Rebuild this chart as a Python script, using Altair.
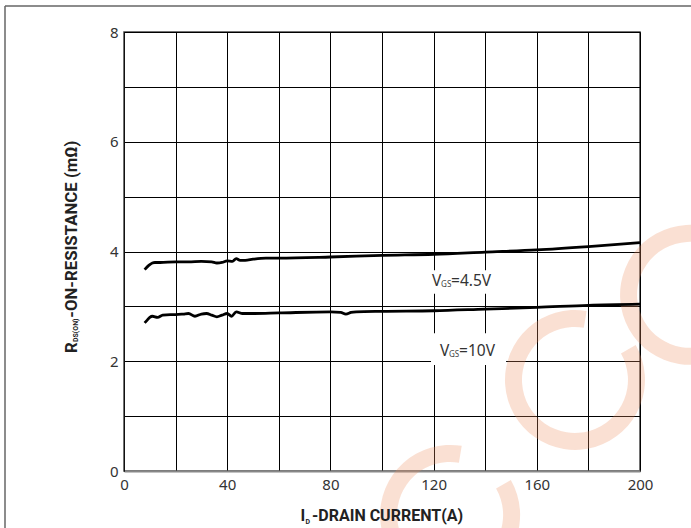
import altair as alt
import pandas as pd

# ---- data ----
x_45 = [8, 9, 10, 11, 12, 14, 20, 25, 30, 34, 36, 38, 40, 42, 43.5, 45, 47, 50, 55, 60, 80, 100, 120, 140, 160, 180, 200]
y_45 = [3.67, 3.72, 3.76, 3.79, 3.80, 3.80, 3.81, 3.81, 3.82, 3.81, 3.79, 3.80, 3.83, 3.82, 3.87, 3.84, 3.84, 3.86, 3.88, 3.88, 3.90, 3.93, 3.95, 3.99, 4.03, 4.09, 4.16]

x_10 = [8, 9, 10, 11, 13, 15, 18, 20, 23, 25, 27.5, 30, 32, 34, 36, 38, 40, 41.7, 43.5, 46, 50, 60, 80, 84, 86, 88, 90, 100, 120, 140, 160, 180, 200]
y_10 = [2.70, 2.75, 2.80, 2.82, 2.80, 2.84, 2.85, 2.85, 2.86, 2.87, 2.82, 2.86, 2.87, 2.84, 2.81, 2.84, 2.87, 2.82, 2.90, 2.87, 2.87, 2.88, 2.90, 2.89, 2.86, 2.89, 2.90, 2.91, 2.92, 2.95, 2.98, 3.02, 3.04]

x_ticks = list(range(0, 201, 20))
y_ticks = list(range(0, 9))

# annotation label anchors (data units)
lab_x = [119.4, 122.5]
lab_y = [3.37, 2.10]
lab_main = ["V", "V"]
lab_sub = ["GS", "GS"]
lab_rest = ["=4.5V", "=10V"]
box_x1 = [117.4, 119.0]
box_x2 = [143.4, 148.1]
box_y1 = [3.23, 1.93]
box_y2 = [3.66, 2.51]

# watermark ring centres (data units)
wm_x = [126.4, 174.8, 219.4]
wm_y = [-0.80, 1.66, 3.21]

FONT = "Noto Sans"
TFONT = "Roboto"

df = pd.DataFrame({
    "id": x_45 + x_10,
    "r": y_45 + y_10,
    "vgs": ["4.5V"] * len(x_45) + ["10V"] * len(x_10),
})
labels = pd.DataFrame({"x": lab_x, "y": lab_y, "main": lab_main, "sub": lab_sub, "rest": lab_rest})
boxes = pd.DataFrame({"x1": box_x1, "x2": box_x2, "y1": box_y1, "y2": box_y2})
wm = pd.DataFrame({"cx": wm_x, "cy": wm_y})
one = pd.DataFrame({"a": [0]})

xscale = alt.Scale(domain=[0, 200], nice=False, zero=False)
yscale = alt.Scale(domain=[0, 8], nice=False, zero=False)

xaxis = alt.Axis(values=x_ticks, labelExpr="datum.value % 40 == 0 ? datum.label : ''",
                 grid=True, gridColor="#000", gridWidth=1, ticks=False,
                 domainColor="#888", domainWidth=2, labelFont=FONT, labelFontSize=15,
                 labelColor="#333", labelPadding=6, title=None, labelFlush=False)
yaxis = alt.Axis(values=y_ticks, labelExpr="datum.value % 2 == 0 ? datum.label : ''",
                 grid=True, gridColor="#000", gridWidth=1, ticks=False,
                 domainColor="#111", domainWidth=1, labelFont=FONT, labelFontSize=15,
                 labelColor="#333", labelPadding=6, title=None, labelFlush=False)

lines = alt.Chart(df).mark_line(strokeWidth=2.8, color="black", interpolate="monotone").encode(
    x=alt.X("id:Q", scale=xscale, axis=xaxis),
    y=alt.Y("r:Q", scale=yscale, axis=yaxis),
    detail="vgs:N",
)

watermark = alt.Chart(wm).mark_arc(color="#EE9162", opacity=0.28, radius=70, radius2=53,
                                   theta=1.05, theta2=6.45).encode(
    x=alt.X("cx:Q", scale=xscale),
    y=alt.Y("cy:Q", scale=yscale),
)

rects = alt.Chart(boxes).mark_rect(color="white").encode(
    x=alt.X("x1:Q", scale=xscale), x2="x2:Q",
    y=alt.Y("y1:Q", scale=yscale), y2="y2:Q",
)

t_main = alt.Chart(labels).mark_text(align="left", baseline="alphabetic", font=FONT,
                                     fontSize=15.5, color="#333").encode(
    x=alt.X("x:Q", scale=xscale), y=alt.Y("y:Q", scale=yscale), text="main:N")
t_sub = alt.Chart(labels).mark_text(align="left", baseline="alphabetic", font=FONT,
                                    fontSize=8, color="#444", dx=9, dy=1).encode(
    x=alt.X("x:Q", scale=xscale), y=alt.Y("y:Q", scale=yscale), text="sub:N")
t_rest = alt.Chart(labels).mark_text(align="left", baseline="alphabetic", font=FONT,
                                     fontSize=15.5, color="#333", dx=19).encode(
    x=alt.X("x:Q", scale=xscale), y=alt.Y("y:Q", scale=yscale), text="rest:N")

# axis titles with subscripts
def txt(s, x, y, size, angle=0, bold=True):
    return alt.Chart(one).mark_text(text=s, align="left", baseline="alphabetic", font=TFONT,
                                    fontSize=size, fontWeight="bold" if bold else "normal",
                                    color="#222", angle=angle).encode(
        x=alt.value(x), y=alt.value(y))

xt1 = txt("I", 176.5, 489, 16)
xt2 = txt("D", 181.5, 491.5, 7)
xt3 = txt("-DRAIN CURRENT(A)", 188, 489, 16)
yt1 = txt("R", -46.7, 321, 16.8, angle=270)
yt2 = txt("DS(ON)", -46.5, 310, 7, angle=270)
yt3 = txt("-ON-RESISTANCE (mΩ)", -46.7, 285.7, 16.8, angle=270)

# outer frame
frame_left = alt.Chart(one).mark_rule(color="#666", strokeWidth=1.5).encode(
    x=alt.value(-119), y=alt.value(-26), y2=alt.value(500))
frame_top = alt.Chart(one).mark_rule(color="#666", strokeWidth=1.5).encode(
    x=alt.value(-119), x2=alt.value(570), y=alt.value(-26))

chart = alt.layer(
    watermark, lines, rects, t_main, t_sub, t_rest,
    xt1, xt2, xt3, yt1, yt2, yt3, frame_left, frame_top,
).properties(
    width=516, height=439,
    autosize=alt.AutoSizeParams(type="none"),
    padding={"left": 124, "top": 32, "right": 51, "bottom": 57},
    background="white",
).configure_view(stroke="#444", strokeWidth=1.5)

chart.save("out.html", embed_options={"renderer": "svg", "actions": False})
